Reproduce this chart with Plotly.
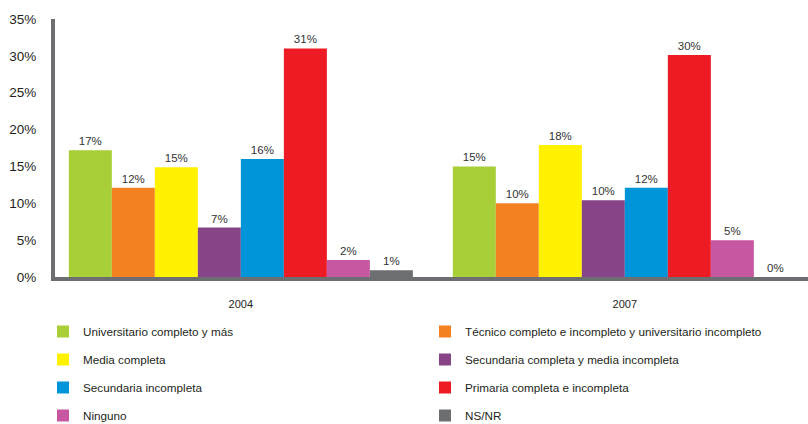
import plotly.graph_objects as go

years = ["2004", "2007"]
categories = [
    "Universitario completo y más",
    "Técnico completo e incompleto y universitario incompleto",
    "Media completa",
    "Secundaria completa y media incompleta",
    "Secundaria incompleta",
    "Primaria completa e incompleta",
    "Ninguno",
    "NS/NR",
]
values_2004 = [17.2, 12.1, 14.9, 6.7, 16.0, 31.0, 2.3, 0.9]
values_2007 = [15.0, 10.0, 17.9, 10.4, 12.1, 30.1, 5.0, 0.0]
labels_2004 = ["17%", "12%", "15%", "7%", "16%", "31%", "2%", "1%"]
labels_2007 = ["15%", "10%", "18%", "10%", "12%", "30%", "5%", "0%"]
colors = ["#a8cf38", "#f48120", "#fff100", "#874487", "#0095d9", "#ed1c24", "#c757a0", "#6d6e71"]
y_ticks = [0, 5, 10, 15, 20, 25, 30, 35]

FONT = "Liberation Sans, Arial, sans-serif"

fig = go.Figure()
for i, cat in enumerate(categories):
    fig.add_trace(go.Bar(
        x=years,
        y=[values_2004[i], values_2007[i]],
        name=cat,
        text=[labels_2004[i], labels_2007[i]],
        textposition="outside",
        constraintext="none",
        textfont=dict(size=11.5, color="#333333", family=FONT),
        cliponaxis=False,
        marker=dict(color=colors[i], line=dict(width=0)),
        legend="legend" if i % 2 == 0 else "legend2",
        legendgroup=f"g{i}",
        hoverinfo="skip",
    ))

legend_common = dict(
    font=dict(size=11.7, color="#231f20", family=FONT),
    orientation="v",
    yref="container",
    xref="container",
    yanchor="top",
    xanchor="left",
    y=1 - 317 / 424,
    tracegroupgap=9,
    bgcolor="rgba(0,0,0,0)",
    itemsizing="constant",
)

fig.update_layout(
    width=808,
    height=424,
    paper_bgcolor="white",
    plot_bgcolor="white",
    font=dict(family=FONT, color="#231f20"),
    margin=dict(l=55, r=0, t=19, b=147, autoexpand=False),
    barmode="group",
    bargap=0.104,
    bargroupgap=0,
    showlegend=True,
    legend=dict(**legend_common, x=43 / 808),
    legend2=dict(**legend_common, x=425 / 808),
    xaxis=dict(
        type="category",
        range=[-0.484, 1.477],
        showline=True,
        linecolor="#6d6e71",
        linewidth=4,
        showgrid=False,
        ticks="outside",
        ticklen=14,
        tickcolor="rgba(0,0,0,0)",
        tickfont=dict(size=11, color="#231f20"),
        fixedrange=True,
    ),
    yaxis=dict(
        range=[0, 35],
        tickvals=y_ticks,
        ticktext=[f"{v}%" for v in y_ticks],
        showline=True,
        linecolor="#6d6e71",
        linewidth=4,
        showgrid=False,
        zeroline=False,
        ticks="outside",
        ticklen=12,
        tickcolor="rgba(0,0,0,0)",
        tickfont=dict(size=13.5, color="#231f20"),
        fixedrange=True,
    ),
)

fig.write_html(
    "out.html",
    config={"displayModeBar": False, "staticPlot": True},
    post_script="document.body.style.margin='0';document.body.style.overflow='hidden';",
)
